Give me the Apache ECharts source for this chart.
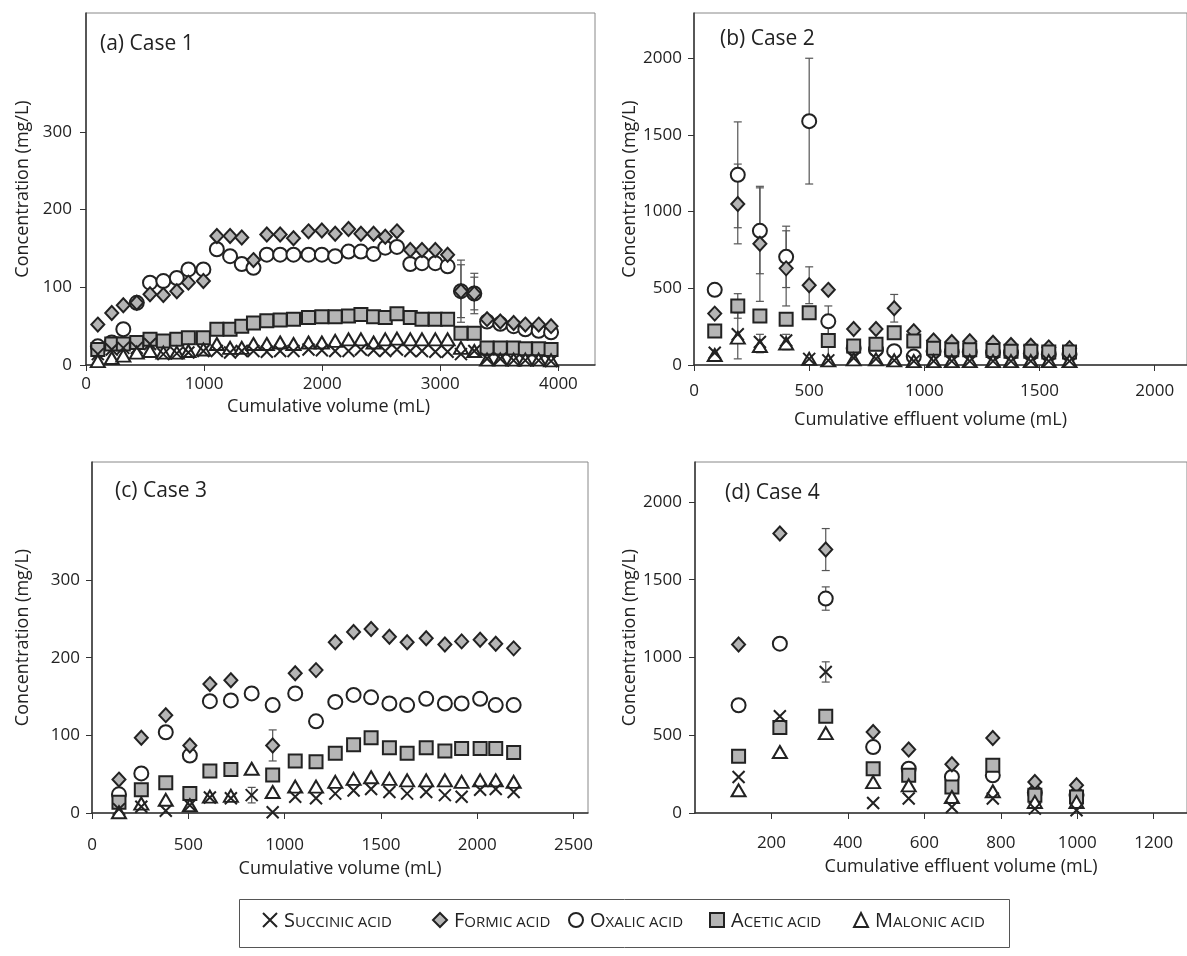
<!DOCTYPE html>
<html>
<head>
<meta charset="utf-8">
<title>Organic acid concentrations</title>
<script src="https://cdn.jsdelivr.net/npm/echarts@6/dist/echarts.min.js"></script>
<style>
html,body{margin:0;padding:0;background:#fff;}
#main{width:1187px;height:956px;}
</style>
</head>
<body>
<div id="main"></div>
<script>
// 读图得到的数据 (mL, mg/L)
var acidNames = ['Succinic acid', 'Formic acid', 'Oxalic acid', 'Acetic acid', 'Malonic acid'];

// (a) Case 1
var aVolume   = [100, 218, 316, 430, 542, 655, 769, 867, 994, 1108, 1220, 1319, 1418, 1531, 1644, 1757, 1884, 1997, 2110, 2223, 2328, 2435, 2534, 2633, 2746, 2845, 2958, 3062, 3175, 3288, 3396, 3508, 3621, 3720, 3833, 3938];
var aSuccinic = [14, 20, 22, 22, 27, 14, 15, 16, 18, 18, 16, 18, 18, 17, 18, 18, 20, 19, 18, 18, 20, 19, 18, 20, 18, 18, 17, 17, 14, 18, 8, 8, 6, 6, 6, 5];
var aFormic   = [52, 67, 77, 80, 91, 90, 95, 106, 108, 166, 166, 164, 135, 168, 168, 163, 172, 173, 169, 175, 169, 169, 165, 172, 148, 148, 148, 142, 95, 92, 59, 56, 54, 52, 52, 50];
var aOxalic   = [24, 29, 46, 80, 106, 108, 112, 123, 123, 149, 140, 130, 125, 142, 142, 142, 142, 142, 140, 146, 146, 143, 151, 152, 130, 131, 131, 127, 95, 92, 56, 53, 50, 46, 44, 42];
var aAcetic   = [20, 27, 27, 29, 33, 31, 33, 35, 35, 46, 46, 50, 54, 57, 58, 59, 61, 62, 62, 63, 65, 62, 61, 66, 61, 59, 59, 59, 41, 41, 22, 22, 22, 21, 21, 20];
var aMalonic  = [5, 9, 12, 16, 18, 16, 16, 18, 20, 27, 22, 22, 27, 27, 29, 27, 29, 29, 31, 33, 33, 29, 33, 34, 33, 33, 33, 33, 22, 18, 7, 7, 7, 7, 7, 6];
// [volume, value, error]
var aErrors   = [[3175, 95, 40], [3175, 95, 34], [3288, 92, 26], [3288, 92, 21]];

// (b) Case 2
var bVolume   = [90, 190, 286, 400, 500, 583, 693, 790, 869, 954, 1040, 1119, 1197, 1298, 1376, 1462, 1540, 1630];
var bSuccinic = [80, 200, 150, 160, 40, 30, 46, 40, 30, 25, 25, 25, 25, 25, 25, 25, 25, 25];
var bFormic   = [335, 1050, 790, 630, 520, 490, 235, 235, 370, 220, 160, 150, 155, 145, 130, 125, 115, 110];
var bOxalic   = [490, 1240, 875, 705, 1590, 285, 110, 100, 90, 55, 90, 85, 85, 80, 80, 75, 70, 70];
var bAcetic   = [222, 385, 320, 298, 341, 160, 124, 135, 211, 157, 110, 100, 100, 95, 90, 90, 85, 85];
var bMalonic  = [65, 178, 124, 140, 40, 30, 37, 37, 30, 25, 25, 25, 25, 25, 25, 25, 25, 25];
var bErrors   = [[190, 1050, 260], [286, 790, 375], [400, 630, 245], [500, 520, 120], [869, 370, 90],
                 [190, 1240, 345], [286, 875, 280], [400, 705, 200], [500, 1590, 410], [583, 285, 100],
                 [190, 385, 80], [583, 160, 140], [190, 190, 150], [286, 140, 60], [400, 150, 50]];

// (c) Case 3
var cVolume   = [140, 256, 383, 508, 612, 721, 829, 938, 1055, 1163, 1263, 1358, 1449, 1544, 1636, 1735, 1832, 1919, 2015, 2096, 2189];
var cSuccinic = [5, 8, 3, 10, 20, 19, 23, 1, 21, 19, 25, 29, 31, 27, 25, 27, 23, 21, 30, 31, 27];
var cFormic   = [43, 97, 126, 87, 166, 171, null, 87, 180, 184, 220, 233, 237, 227, 220, 225, 217, 221, 223, 218, 212];
var cOxalic   = [24, 51, 104, 74, 144, 145, 154, 139, 154, 118, 143, 152, 149, 141, 139, 147, 141, 141, 147, 139, 139];
var cAcetic   = [14, 30, 39, 25, 54, 56, null, 49, 67, 66, 77, 88, 97, 84, 77, 84, 80, 83, 83, 83, 78];
var cMalonic  = [1, 12, 17, 10, 21, 22, 57, 27, 34, 34, 40, 44, 46, 44, 42, 42, 42, 40, 42, 42, 40];
var cErrors   = [[938, 87, 20], [829, 23, 10]];

// (d) Case 4
var dVolume   = [114, 222, 342, 466, 559, 672, 779, 889, 998];
var dSuccinic = [232, 622, 907, 64, 93, 39, 93, 28, 18];
var dFormic   = [1083, 1797, 1694, 521, 408, 313, 482, 199, 178];
var dOxalic   = [693, 1089, 1379, 424, 285, 232, 242, 130, 115];
var dAcetic   = [365, 549, 622, 285, 242, 167, 307, 114, 103];
var dMalonic  = [146, 392, 514, 199, 178, 103, 140, 71, 71];
var dErrors   = [[342, 1694, 135], [342, 1379, 75], [342, 907, 65]];

// 刻度
var concTicksSmall = [0, 100, 200, 300];
var concTicksLarge = [0, 500, 1000, 1500, 2000];
var aVolTicks = [0, 1000, 2000, 3000, 4000];
var bVolTicks = [0, 500, 1000, 1500, 2000];
var cVolTicks = [0, 500, 1000, 1500, 2000, 2500];
var dVolTicks = [200, 400, 600, 800, 1000, 1200];

var FONT = '"Open Sans", "Noto Sans", sans-serif';
var INK = '#222';
var GREY = '#b5b5b5';

// 每种酸的符号
var markerStyle = {
    'Succinic acid': {symbol: 'path://M0,0L10,10M10,0L0,10', size: 12, fill: 'rgba(0,0,0,0)'},
    'Formic acid':   {symbol: 'diamond', size: [13, 14], fill: GREY},
    'Oxalic acid':   {symbol: 'circle', size: 14, fill: '#fff'},
    'Acetic acid':   {symbol: 'rect', size: 13, fill: GREY},
    'Malonic acid':  {symbol: 'triangle', size: [14, 12], fill: '#fff'}
};

function pairs(xs, ys) {
    var out = [];
    for (var i = 0; i < xs.length; i++) {
        if (ys[i] !== null && ys[i] !== undefined) out.push([xs[i], ys[i]]);
    }
    return out;
}

function scatter(name, idx, xs, ys) {
    var m = markerStyle[name];
    return {
        name: name,
        type: 'scatter',
        xAxisIndex: idx,
        yAxisIndex: idx,
        symbol: m.symbol,
        symbolSize: m.size,
        itemStyle: {color: m.fill, borderColor: INK, borderWidth: 2, opacity: 1},
        emphasis: {disabled: true},
        data: pairs(xs, ys)
    };
}

// 误差棒
function renderErrorBar(params, api) {
    var x = api.value(0), y = api.value(1), e = api.value(2);
    var top = api.coord([x, y + e]);
    var bottom = api.coord([x, y - e]);
    var w = 4;
    var style = {stroke: '#555', lineWidth: 1.2, fill: null};
    return {
        type: 'group',
        children: [
            {type: 'line', shape: {x1: top[0], y1: top[1], x2: bottom[0], y2: bottom[1]}, style: style},
            {type: 'line', shape: {x1: top[0] - w, y1: top[1], x2: top[0] + w, y2: top[1]}, style: style},
            {type: 'line', shape: {x1: bottom[0] - w, y1: bottom[1], x2: bottom[0] + w, y2: bottom[1]}, style: style}
        ]
    };
}

function errorSeries(idx, data) {
    return {
        type: 'custom',
        xAxisIndex: idx,
        yAxisIndex: idx,
        renderItem: renderErrorBar,
        encode: {x: 0, y: 1},
        silent: true,
        data: data
    };
}

// 不要千位分隔符
function plainNumber(v) {
    return String(v);
}

function xAxis(idx, max, ticks, name, labelMargin, nameGap, namePad) {
    return {
        type: 'value', gridIndex: idx, min: 0, max: max,
        name: name, nameLocation: 'middle', nameGap: nameGap,
        nameTextStyle: {fontFamily: FONT, fontSize: 18, color: INK, padding: namePad},
        axisLine: {show: true, onZero: false, lineStyle: {color: '#333', width: 1.5}},
        axisTick: {show: true, length: 6, customValues: ticks, lineStyle: {color: '#333'}},
        axisLabel: {customValues: ticks, formatter: plainNumber, margin: labelMargin, fontFamily: FONT, fontSize: 17, color: INK},
        splitLine: {show: false}
    };
}

function yAxis(idx, max, ticks, labelMargin, nameGap) {
    return {
        type: 'value', gridIndex: idx, min: 0, max: max,
        name: 'Concentration (mg/L)', nameLocation: 'middle', nameGap: nameGap,
        nameTextStyle: {fontFamily: FONT, fontSize: 18, color: INK},
        axisLine: {show: true, onZero: false, lineStyle: {color: '#333', width: 1.5}},
        axisTick: {show: true, length: 6, customValues: ticks, lineStyle: {color: '#333'}},
        axisLabel: {customValues: ticks, formatter: plainNumber, margin: labelMargin, fontFamily: FONT, fontSize: 17, color: INK},
        splitLine: {show: false}
    };
}

var series = [];
var panels = [
    {x: aVolume, s: aSuccinic, f: aFormic, o: aOxalic, ac: aAcetic, m: aMalonic, err: aErrors},
    {x: bVolume, s: bSuccinic, f: bFormic, o: bOxalic, ac: bAcetic, m: bMalonic, err: bErrors},
    {x: cVolume, s: cSuccinic, f: cFormic, o: cOxalic, ac: cAcetic, m: cMalonic, err: cErrors},
    {x: dVolume, s: dSuccinic, f: dFormic, o: dOxalic, ac: dAcetic, m: dMalonic, err: dErrors}
];
panels.forEach(function (p, i) {
    series.push(errorSeries(i, p.err));
    series.push(scatter('Oxalic acid', i, p.x, p.o));
    series.push(scatter('Formic acid', i, p.x, p.f));
    series.push(scatter('Acetic acid', i, p.x, p.ac));
    series.push(scatter('Malonic acid', i, p.x, p.m));
    series.push(scatter('Succinic acid', i, p.x, p.s));
});

// 图例：小型大写字母
function smallCaps(name) {
    return '{b|' + name.charAt(0).toUpperCase() + '}{s|' + name.slice(1).toUpperCase() + '}';
}
var legendLeft = [262, 432, 568, 709, 853];
var legendIcon = ['path://M0,0L10,10M10,0L0,10', 'diamond', 'circle', 'rect', 'triangle'];
var legends = acidNames.map(function (name, i) {
    var m = markerStyle[name];
    return {
        data: [{name: name, icon: legendIcon[i]}],
        left: legendLeft[i], top: 911,
        itemWidth: 14, itemHeight: 14, padding: 0,
        selectedMode: false,
        itemStyle: {color: m.fill, borderColor: INK, borderWidth: 2},
        formatter: smallCaps,
        textStyle: {
            color: INK, fontFamily: FONT, padding: [0, 0, 0, 2],
            rich: {
                b: {fontFamily: FONT, fontSize: 20, color: INK, verticalAlign: 'bottom', lineHeight: 22},
                s: {fontFamily: FONT, fontSize: 15, color: INK, verticalAlign: 'bottom', lineHeight: 22, padding: [0, 0, 1, 0]}
            }
        }
    };
});

function panelTitle(text, left, top) {
    return {text: text, left: left, top: top, padding: 0,
        textStyle: {fontFamily: FONT, fontSize: 21, fontWeight: 'normal', color: INK}};
}

var chart = echarts.init(document.getElementById('main'));
var option = {
    backgroundColor: '#fff',
    animation: false,
    title: [
        panelTitle('(a) Case 1', 100, 34),
        panelTitle('(b) Case 2', 720, 29),
        panelTitle('(c) Case 3', 115, 481),
        panelTitle('(d) Case 4', 725, 483)
    ],
    legend: legends,
    grid: [
        {left: 86, top: 13, width: 509, height: 352, show: true, borderColor: '#888', borderWidth: 1},
        {left: 694, top: 13, width: 501, height: 352, show: true, borderColor: '#888', borderWidth: 1},
        {left: 92, top: 462, width: 496, height: 351, show: true, borderColor: '#888', borderWidth: 1},
        {left: 695, top: 462, width: 500, height: 351, show: true, borderColor: '#888', borderWidth: 1}
    ],
    xAxis: [
        xAxis(0, 4310, aVolTicks, 'Cumulative volume (mL)', 11, 33, [0, 24, 0, 0]),
        xAxis(1, 2140, bVolTicks, 'Cumulative effluent volume (mL)', 18, 46, [0, 20, 0, 0]),
        xAxis(2, 2575, cVolTicks, 'Cumulative volume (mL)', 24, 47, 0),
        xAxis(3, 1287, dVolTicks, 'Cumulative effluent volume (mL)', 22, 45, [0, 0, 0, 40])
    ],
    yAxis: [
        yAxis(0, 453, concTicksSmall, 14, 54),
        yAxis(1, 2295, concTicksLarge, 12, 54),
        yAxis(2, 452, concTicksSmall, 12, 60),
        yAxis(3, 2257, concTicksLarge, 13, 55)
    ],
    graphic: [{
        type: 'rect', left: 237, top: 897,
        shape: {width: 770, height: 48},
        style: {fill: 'none', stroke: '#555', lineWidth: 1}
    }],
    series: series
};
chart.setOption(option);
window.addEventListener('resize', function () {
    chart.resize();
});
</script>
</body>
</html>
